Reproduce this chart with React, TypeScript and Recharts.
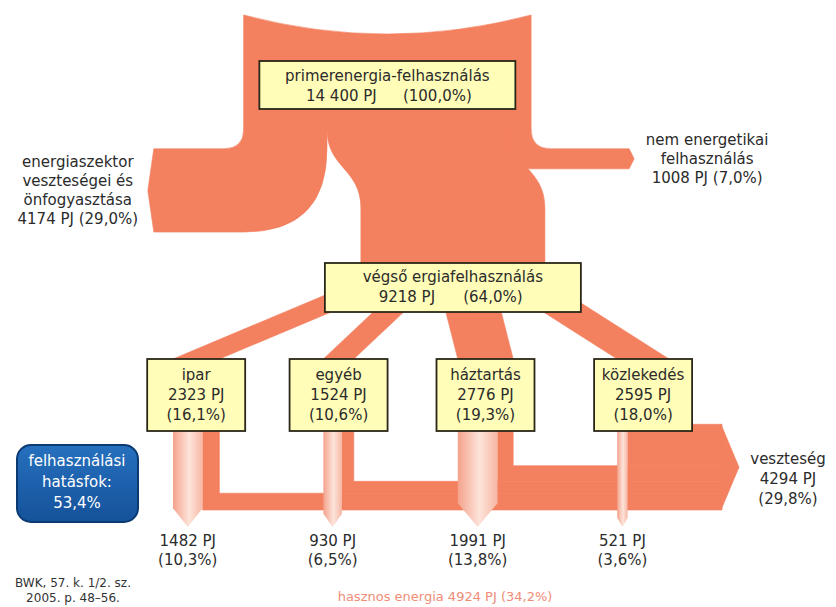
import React from 'react';
import { Sankey } from 'recharts';

// ---------------- data ----------------
const primaryLabel = 'primerenergia-felhasználás';
const primaryPJ = 14400;
const primaryShare = '100,0%';

const splitLabels = [
  ['energiaszektor', 'veszteségei és', 'önfogyasztása'],
  ['végső ergiafelhasználás'],
  ['nem energetikai', 'felhasználás'],
];
const splitPJ = [4174, 9218, 1008];
const splitShare = ['29,0%', '64,0%', '7,0%'];

const sectorNames = ['ipar', 'egyéb', 'háztartás', 'közlekedés'];
const sectorPJ = [2323, 1524, 2776, 2595];
const sectorShare = ['16,1%', '10,6%', '19,3%', '18,0%'];

const usefulPJ = [1482, 930, 1991, 521];
const usefulShare = ['10,3%', '6,5%', '13,8%', '3,6%'];
const sectorLossPJ = [841, 594, 785, 2074];

const lossLabel = 'veszteség';
const lossPJ = 4294;
const lossShare = '29,8%';

const usefulTotalLabel = 'hasznos energia';
const usefulTotalPJ = 4924;
const usefulTotalShare = '34,2%';

const efficiencyLines = ['felhasználási', 'hatásfok:'];
const efficiencyValue = '53,4%';
const sourceLines = ['BWK, 57. k. 1/2. sz.', '2005. p. 48–56.'];

// ---------------- styling / layout constants ----------------
const FONT = "'DejaVu Sans', Verdana, sans-serif";
const SALMON = '#F3805F';
const BOX_FILL = '#FFFDB8';
const BOX_STROKE = '#2A2618';
const TEXT = '#2B2B2B';
const NODE_W = 72;
const PAD = 104;
const SIZE = 836;
const M = { top: 69, right: 254, bottom: 167, left: 57 };

const fmtPJ = (v: number) =>
  (v >= 10000 ? `${Math.floor(v / 1000)} ${String(v % 1000).padStart(3, '0')}` : String(v)) + ' PJ';

// ---------------- sankey table built from the arrays ----------------
const FINAL = 2;
const SECTOR0 = 4;
const USEFUL0 = SECTOR0 + sectorNames.length;
const LOSS = USEFUL0 + usefulPJ.length;

const nodes: any[] = [
  { name: primaryLabel, role: 'primary', pj: primaryPJ, share: primaryShare },
  { name: splitLabels[0].join(' '), role: 'sideLeft', lines: splitLabels[0], pj: splitPJ[0], share: splitShare[0] },
  { name: splitLabels[1].join(' '), role: 'final', lines: splitLabels[1], pj: splitPJ[1], share: splitShare[1] },
  { name: splitLabels[2].join(' '), role: 'sideRight', lines: splitLabels[2], pj: splitPJ[2], share: splitShare[2] },
  ...sectorNames.map((n, i) => ({ name: n, role: 'sector', pj: sectorPJ[i], share: sectorShare[i] })),
  ...usefulPJ.map((v, i) => ({ name: `${sectorNames[i]} hasznos`, role: 'useful', pj: v, share: usefulShare[i] })),
  { name: lossLabel, role: 'loss', pj: lossPJ, share: lossShare },
];

const links = [
  ...splitPJ.map((v, i) => ({ source: 0, target: 1 + i, value: v })),
  ...sectorPJ.map((v, i) => ({ source: FINAL, target: SECTOR0 + i, value: v })),
  ...sectorLossPJ.map((v, i) => ({ source: SECTOR0 + i, target: LOSS, value: v })),
  ...usefulPJ.map((v, i) => ({ source: SECTOR0 + i, target: USEFUL0 + i, value: v })),
];

const data = { nodes, links };

const Txt = (props: any) => (
  <text textAnchor="middle" fontFamily={FONT} fontSize={15} fill={TEXT} {...props} />
);

const Band = (props: any) => <path fill={SALMON} stroke={SALMON} strokeWidth={0.6} strokeLinejoin="round" {...props} />;

// The sankey is laid out left-to-right by Recharts; every shape below swaps the two
// axes so the flow runs from top to bottom (X = value axis, Y = depth axis).
function renderLink(props: any) {
  const { sourceX, targetX, sourceY, targetY, sourceControlX, targetControlX, linkWidth, payload, index } = props;
  const w = linkWidth;
  const role = payload?.target?.role;
  const sx = sourceY;
  const sy = sourceX;
  const tx = targetY;
  const ty = targetX;
  const k = `link-${index}`;

  if (role === 'final') {
    const d = `M${sx - w / 2},${sy} C${sx - w / 2},${sourceControlX} ${tx - w / 2},${targetControlX} ${tx - w / 2},${ty} L${tx + w / 2},${ty} C${tx + w / 2},${targetControlX} ${sx + w / 2},${sourceControlX} ${sx + w / 2},${sy} Z`;
    return <Band key={k} d={d} />;
  }
  if (role === 'sector') {
    const d = `M${sx - w / 2},${sy} L${tx - w / 2},${ty} L${tx + w / 2},${ty} L${sx + w / 2},${sy} Z`;
    return <Band key={k} d={d} />;
  }
  if (role === 'sideLeft' || role === 'sideRight') {
    const a = sx - w / 2;
    const b = sx + w / 2;
    const h0 = sy + (ty - sy) * 0.25;
    const h1 = h0 + w;
    const mid = (h0 + h1) / 2;
    const r = h0 - sy;
    const inner = Math.max(sy, h1 - (b - a));
    const e = tx - w / 2 - r;
    const t = payload.target;
    const lines = [...t.lines, `${fmtPJ(t.pj)} (${t.share})`];
    const lh = 19;
    let d: string;
    let lx: number;
    if (role === 'sideLeft') {
      d = `M${a},${sy} Q${a},${h0} ${a - r},${h0} L${e},${h0} L${e - 6},${mid} L${e},${h1} L${a},${h1} Q${b},${h1} ${b},${inner} L${b},${sy} Z`;
      lx = e - 76;
    } else {
      d = `M${b},${sy} Q${b},${h0} ${b + r},${h0} L${e},${h0} L${e + 5},${mid} L${e},${h1} L${b},${h1} Q${a},${h1} ${a},${inner} L${a},${sy} Z`;
      lx = e + 78;
    }
    const y0 = mid - ((lines.length - 1) * lh) / 2 + 5;
    return (
      <g key={k}>
        <Band d={d} />
        {lines.map((s, i) => (
          <Txt key={i} x={lx} y={y0 + i * lh}>{s}</Txt>
        ))}
      </g>
    );
  }
  if (role === 'useful') {
    const x0 = sx - w / 2;
    const x1 = sx + w / 2;
    const tip = ty + 17;
    const hh = w * 0.5 + 4;
    const gid = `ug-${index}`;
    const d = `M${x0},${sy} L${x1},${sy} L${x1},${tip - hh} L${sx},${tip} L${x0},${tip - hh} Z`;
    const t = payload.target;
    return (
      <g key={k}>
        <defs>
          <linearGradient id={gid} x1="0" x2="1" y1="0" y2="0">
            <stop offset="0%" stopColor="#F4A28C" />
            <stop offset="55%" stopColor="#FDE4DA" />
            <stop offset="100%" stopColor="#F7B6A4" />
          </linearGradient>
        </defs>
        <path d={d} fill={`url(#${gid})`} />
        <Txt x={sx} y={tip + 19}>{fmtPJ(t.pj)}</Txt>
        <Txt x={sx} y={tip + 38}>{`(${t.share})`}</Txt>
      </g>
    );
  }
  if (role === 'loss') {
    const t = payload.target;
    const v0 = t.y + M.top;
    const hV = t.dy;
    const off = tx - w / 2 - v0;
    const ybot = ty - off;
    const ytop = ybot - w;
    const xa = v0 + hV + PAD / 2;
    const x0 = sx - w / 2;
    const x1 = sx + w / 2;
    const d = `M${x0},${sy} L${x0},${ybot} L${xa + 1},${ybot} L${xa + 1},${ytop} L${x1},${ytop} L${x1},${sy} Z`;
    return <Band key={k} d={d} strokeLinejoin="miter" />;
  }
  return <g key={k} />;
}

function Box({ x, y, w, h }: any) {
  return <rect x={x} y={y} width={w} height={h} fill={BOX_FILL} stroke={BOX_STROKE} strokeWidth={1.8} />;
}

function renderNode(props: any) {
  const { x, y, width, height, payload, index } = props;
  const X = y;
  const Y = x;
  const Wd = height;
  const Ht = width;
  const cx = X + Wd / 2;
  const k = `node-${index}`;
  const role = payload?.role;

  if (role === 'primary') {
    const top = Y - 42;
    const d = `M${X},${top} Q${cx},${top + 38} ${X + Wd},${top} L${X + Wd},${Y + Ht} L${X},${Y + Ht} Z`;
    const by = Y + 4;
    return (
      <g key={k}>
        <Band d={d} />
        <Box x={cx - 128} y={by} w={256} h={48} />
        <Txt x={cx} y={by + 20}>{payload.name}</Txt>
        <Txt x={cx - 46} y={by + 40}>{fmtPJ(payload.pj)}</Txt>
        <Txt x={cx + 50} y={by + 40}>{`(${payload.share})`}</Txt>
      </g>
    );
  }
  if (role === 'final') {
    const by = Y + Ht - 17;
    return (
      <g key={k}>
        <Band d={`M${X},${Y} H${X + Wd} V${Y + Ht} H${X} Z`} />
        <Box x={cx - 128} y={by} w={256} h={49} />
        <Txt x={cx} y={by + 19}>{payload.lines[0]}</Txt>
        <Txt x={cx - 46} y={by + 39}>{fmtPJ(payload.pj)}</Txt>
        <Txt x={cx + 40} y={by + 39}>{`(${payload.share})`}</Txt>
      </g>
    );
  }
  if (role === 'sector') {
    return (
      <g key={k}>
        <Box x={cx - 49} y={Y} w={98} h={Ht} />
        <Txt x={cx} y={Y + 21}>{payload.name}</Txt>
        <Txt x={cx} y={Y + 41}>{fmtPJ(payload.pj)}</Txt>
        <Txt x={cx} y={Y + 61}>{`(${payload.share})`}</Txt>
      </g>
    );
  }
  if (role === 'loss') {
    const xa = X + Wd + PAD / 2;
    const bottom = Y;
    const topY = Y - Wd;
    const midY = Y - Wd / 2;
    const lx = xa + 18 + 49;
    return (
      <g key={k}>
        <Band d={`M${xa},${topY} L${xa + 18},${midY} L${xa},${bottom} Z`} />
        <Txt x={lx} y={midY - 3}>{payload.name}</Txt>
        <Txt x={lx} y={midY + 17}>{fmtPJ(payload.pj)}</Txt>
        <Txt x={lx} y={midY + 37}>{`(${payload.share})`}</Txt>
      </g>
    );
  }
  return <g key={k} />;
}

export default function App() {
  return (
    <div
      style={{
        position: 'absolute',
        left: 0,
        top: 0,
        width: 836,
        height: 607,
        overflow: 'hidden',
        background: '#ffffff',
      }}
    >
      <Sankey
        width={SIZE}
        height={SIZE}
        data={data}
        nodeWidth={NODE_W}
        nodePadding={PAD}
        margin={M}
        sort={false}
        align="left"
        node={renderNode}
        link={renderLink}
      />
      <svg
        width={836}
        height={607}
        style={{ position: 'absolute', left: 0, top: 0, pointerEvents: 'none' }}
      >
        <defs>
          <linearGradient id="blueBox" x1="0" x2="0" y1="0" y2="1">
            <stop offset="0%" stopColor="#2670BE" />
            <stop offset="100%" stopColor="#15529A" />
          </linearGradient>
        </defs>
        <rect x={17} y={445} width={121} height={77} rx={14} ry={14} fill="url(#blueBox)" stroke="#0B3A73" strokeWidth={2} />
        <Txt x={77} y={466} fill="#ffffff">{efficiencyLines[0]}</Txt>
        <Txt x={77} y={487} fill="#ffffff">{efficiencyLines[1]}</Txt>
        <Txt x={77} y={508} fill="#ffffff">{efficiencyValue}</Txt>
        <Txt x={73} y={587} fontSize={12} fill="#333333">{sourceLines[0]}</Txt>
        <Txt x={73} y={602} fontSize={12} fill="#333333">{sourceLines[1]}</Txt>
        <Txt x={445} y={601} fontSize={13} fill="#EF8C76">
          {`${usefulTotalLabel} ${usefulTotalPJ} PJ (${usefulTotalShare})`}
        </Txt>
      </svg>
    </div>
  );
}
